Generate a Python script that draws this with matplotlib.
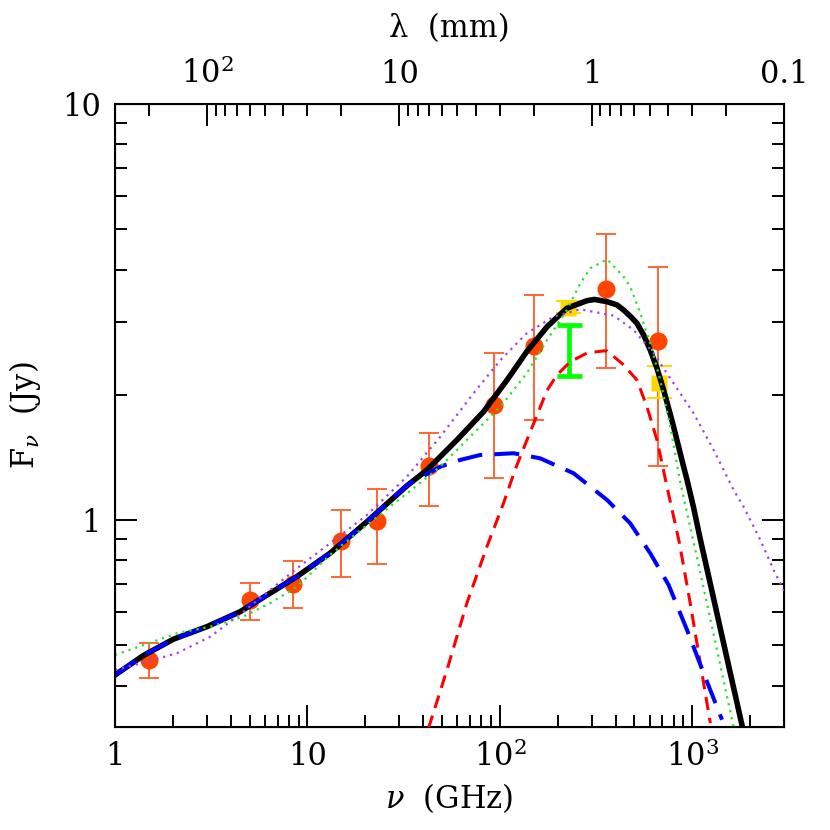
import numpy as np
import matplotlib.pyplot as plt
from matplotlib.ticker import FixedLocator, FixedFormatter, NullFormatter, LogLocator

plt.rcParams['font.family'] = 'DejaVu Serif'
plt.rcParams['mathtext.fontset'] = 'dejavuserif'

# observed fluxes (GHz, Jy)
nu_obs = [1.5, 5.0, 8.4, 15, 23, 43, 93, 150, 355, 660]
f_obs = [0.46, 0.642, 0.70, 0.89, 0.995, 1.35, 1.89, 2.62, 3.60, 2.70]
f_lo = [0.418, 0.574, 0.616, 0.729, 0.784, 1.08, 1.26, 1.74, 2.32, 1.35]
f_hi = [0.505, 0.706, 0.795, 1.057, 1.19, 1.62, 2.52, 3.47, 4.88, 4.06]

# other measurements (yellow squares)
nu_sq = [227, 675]
f_sq = [3.23, 2.14]
f_sq_lo = [3.15, 1.96]
f_sq_hi = [3.36, 2.34]

# range bar (green)
nu_bar = [229]
f_bar_lo = [2.22]
f_bar_hi = [2.94]

# total model (black)
nu_tot = [1.0, 1.40, 2.01, 3.00, 4.47, 6.40, 8.81, 13.1, 20.4, 33, 41.8, 59.8, 82.3, 109, 138, 176,
          223, 284, 310, 361, 406, 440, 476, 516, 559, 605, 656, 710, 754, 800, 902, 940, 1017,
          1102, 1311, 1400, 1829]
f_tot = [0.424, 0.472, 0.517, 0.554, 0.602, 0.667, 0.731, 0.832, 0.991, 1.21, 1.319, 1.557, 1.821,
         2.170, 2.539, 2.915, 3.228, 3.367, 3.39, 3.348, 3.29, 3.197, 3.09, 2.971, 2.785, 2.563,
         2.316, 2.053, 1.856, 1.676, 1.343, 1.248, 1.07, 0.898, 0.628, 0.548, 0.316]

# free-free / synchrotron component (blue)
nu_ff = [1.0, 1.40, 2.01, 3.00, 4.47, 6.40, 8.81, 13.1, 20.4, 33, 49, 62, 79, 118, 162, 242, 361,
         476, 605, 754, 940, 1147, 1429]
f_ff = [0.424, 0.472, 0.517, 0.554, 0.602, 0.667, 0.731, 0.832, 0.991, 1.214, 1.343, 1.394, 1.433,
        1.447, 1.407, 1.295, 1.117, 0.982, 0.832, 0.698, 0.544, 0.428, 0.331]

# dust component (red)
nu_dust = [42.6, 53.1, 67.4, 85.7, 104.5, 120, 127.7, 176, 198, 232, 284, 346, 361, 440, 516, 582,
           656, 740, 857, 977, 1242]
f_dust = [0.316, 0.436, 0.631, 0.863, 1.097, 1.319, 1.42, 2.05, 2.23, 2.40, 2.52, 2.55, 2.55, 2.36,
          2.17, 1.87, 1.557, 1.20, 0.883, 0.630, 0.325]

# alternative model (green dotted)
nu_alt1 = [1.0, 1.40, 2.09, 3.12, 4.65, 6.40, 8.81, 13.1, 20.4, 32.9, 49, 73, 100.8, 138, 176, 223,
           262, 295, 361, 440, 476, 537, 605, 682, 769, 867, 1059, 1242, 1456, 1641]
f_alt1 = [0.474, 0.500, 0.534, 0.554, 0.586, 0.631, 0.691, 0.824, 0.973, 1.159, 1.343, 1.616, 1.873,
          2.252, 2.708, 3.197, 3.707, 4.027, 4.234, 3.846, 3.638, 3.140, 2.660, 2.170, 1.676, 1.23,
          0.813, 0.578, 0.411, 0.318]

# alternative model (purple dotted)
nu_alt2 = [1.0, 1.40, 2.09, 3.12, 4.65, 6.40, 8.81, 13.1, 20.4, 32.9, 49, 73, 100.8, 138, 190, 262,
           390, 496, 630, 800, 1017, 1292, 1641, 1850, 2260, 2650, 3050]
f_alt2 = [0.436, 0.454, 0.478, 0.524, 0.602, 0.679, 0.765, 0.879, 1.028, 1.271, 1.585, 2.017, 2.424,
          2.811, 3.081, 3.210, 3.10, 2.862, 2.516, 2.131, 1.805, 1.473, 1.181, 1.076, 0.895, 0.758,
          0.667]

fig = plt.figure(figsize=(8.3, 8.3), dpi=100)
ax = fig.add_axes([0.1386, 0.1241, 0.806, 0.7506])

# data
yerr = [np.array(f_obs) - np.array(f_lo), np.array(f_hi) - np.array(f_obs)]
ax.errorbar(nu_obs, f_obs, yerr=yerr, fmt='none', ecolor='#FF6633', elinewidth=1.4,
            capsize=7, capthick=1.4, zorder=2)
ax.plot(nu_obs, f_obs, 'o', color='#FF4500', ms=13, mec='none', zorder=2)

yerr_sq = [np.array(f_sq) - np.array(f_sq_lo), np.array(f_sq_hi) - np.array(f_sq)]
ax.errorbar(nu_sq, f_sq, yerr=yerr_sq, fmt='none', ecolor='#FFD700', elinewidth=1.4,
            capsize=9, capthick=1.4, zorder=2.5)
ax.plot(nu_sq, f_sq, 's', color='#FFD700', ms=12, mec='none', zorder=2.5)

ax.errorbar(nu_bar, f_bar_lo, yerr=[[0], np.array(f_bar_hi) - np.array(f_bar_lo)], fmt='none',
            ecolor='#00FF00', elinewidth=3.4, capsize=9, capthick=3.4, zorder=2.6)

# models
ax.plot(nu_tot, f_tot, color='black', lw=4, zorder=3, solid_joinstyle='round')
ax.plot(nu_dust, f_dust, color='#FF0000', lw=2.2, ls=(0, (4.3, 2.6)), zorder=3.1)
ax.plot(nu_ff, f_ff, color='#0000FF', lw=2.9, ls=(0, (6.2, 3.0)), zorder=3.2)
ax.plot(nu_alt1, f_alt1, color='#22E622', lw=1.6, ls=(0, (1, 2.2)), zorder=3.3)
ax.plot(nu_alt2, f_alt2, color='#A040F0', lw=1.6, ls=(0, (1, 2.2)), zorder=3.4)

ax.set_xscale('log')
ax.set_yscale('log')
ax.set_xlim(1, 3000)
ax.set_ylim(0.318, 10)

ax.xaxis.set_major_locator(FixedLocator([1, 10, 100, 1000]))
ax.xaxis.set_major_formatter(FixedFormatter(['1', '10', '$10^2$', '$10^3$']))
ax.xaxis.set_minor_locator(LogLocator(base=10, subs=np.arange(2, 10)))
ax.xaxis.set_minor_formatter(NullFormatter())
ax.yaxis.set_major_locator(FixedLocator([1, 10]))
ax.yaxis.set_major_formatter(FixedFormatter(['1', '10']))
ax.yaxis.set_minor_locator(LogLocator(base=10, subs=np.arange(2, 10)))
ax.yaxis.set_minor_formatter(NullFormatter())

ax.tick_params(which='both', direction='in', width=1.4, labelsize=22, right=True, top=False)
ax.tick_params(which='major', length=16, pad=10)
ax.tick_params(which='minor', length=8.5)
for s in ax.spines.values():
    s.set_linewidth(1.5)

ax.set_xlabel(r'$\nu$  (GHz)', fontsize=22, labelpad=6)
ax.set_ylabel(r'F$_\nu$  (Jy)', fontsize=22, labelpad=14)

# wavelength axis on top
ax2 = ax.twiny()
ax2.set_xscale('log')
ax2.set_xlim(ax.get_xlim())
lam_major = [100, 10, 1, 0.1]
lam_minor = [k * 10.0 ** e for e in range(-1, 3) for k in range(2, 10)] + [300]
ax2.xaxis.set_major_locator(FixedLocator([300 / l for l in lam_major]))
ax2.xaxis.set_major_formatter(FixedFormatter(['$10^2$', '10', '1', '0.1']))
ax2.xaxis.set_minor_locator(FixedLocator([300 / l for l in lam_minor]))
ax2.xaxis.set_minor_formatter(NullFormatter())
ax2.tick_params(which='both', direction='in', width=1.4, labelsize=22)
ax2.tick_params(which='major', length=16, pad=10)
ax2.tick_params(which='minor', length=8.5)
ax2.set_xlabel('λ  (mm)', fontsize=22, labelpad=15)

fig.savefig('out.png', dpi=100)
